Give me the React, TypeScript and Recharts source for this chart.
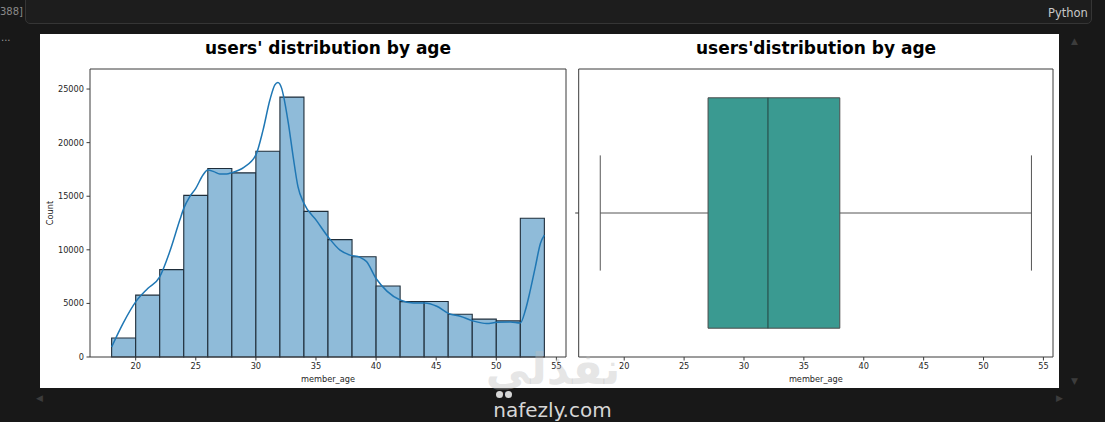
import React from 'react'
import {
  ComposedChart, Line, XAxis, YAxis, ReferenceArea, ReferenceLine
} from 'recharts'

// histogram bins (2-year wide) and counts
const binEdges = [18, 20, 22, 24, 26, 28, 30, 32, 34, 36, 38, 40, 42, 44, 46, 48, 50, 52, 54]
const binCounts = [1770, 5770, 8150, 15080, 17580, 17180, 19200, 24250, 13590, 10950, 9360, 6630, 5170, 5180, 3990, 3530, 3370, 12940]

// kde curve
const kdeAges = [18, 18.94, 20, 21, 22, 22.83, 23.67, 24, 24.5, 25, 25.6, 26, 26.5, 27, 27.56, 28, 29, 30, 30.6, 31.17, 31.58, 31.83, 32.14, 32.28, 32.7, 33.1, 33.5, 34, 35.06, 36, 37, 37.83, 38.67, 39.2, 40, 40.9, 42.05, 43.1, 44.05, 45.05, 46.06, 47, 48.06, 49.2, 50.06, 51.17, 52, 52.42, 52.83, 53.25, 53.67, 54]
const kdeCounts = [935, 3116, 5142, 6388, 7479, 9816, 12776, 13867, 14958, 15737, 16983, 17451, 17295, 17077, 17077, 17202, 17700, 18853, 21190, 23995, 25397, 25615, 25086, 24462, 21813, 18697, 15893, 14335, 12700, 11219, 9972, 9505, 9300, 8900, 7323, 6150, 5298, 5048, 5048, 4737, 4051, 3802, 3366, 3116, 3241, 3272, 3179, 4363, 6232, 8414, 10595, 11374]

const ageTicks = [20, 25, 30, 35, 40, 45, 50, 55]
const countTicks = [0, 5000, 10000, 15000, 20000, 25000]

// whisker low, q1, median, q3, whisker high
const boxStats = [18, 27, 32, 38, 54]

const FONT = '"DejaVu Sans", sans-serif'
const AXIS = '#3a3a3a'
const TXT = '#262626'
const AGE_DOMAIN: [number, number] = [16.2, 55.8]
const COUNT_DOMAIN: [number, number] = [0, 26870]
const BOX_DOMAIN: [number, number] = [-0.5, 0.5]

const kdeData = kdeAges.map((age, i) => ({ age, kde: kdeCounts[i] }))

const tickStyle = { fontSize: 8.2, fill: TXT, fontFamily: FONT }

function HistChart() {
  return (
    <ComposedChart width={530} height={354} data={kdeData}
      margin={{ top: 35, right: 4, bottom: 0, left: 0 }}>
      <XAxis dataKey="age" type="number" domain={AGE_DOMAIN} ticks={ageTicks} allowDataOverflow
        height={31} tickSize={3.5} tickMargin={3} stroke={AXIS} tick={tickStyle}
        label={{ value: 'member_age', position: 'insideBottom', offset: 5.7, fontSize: 8.2, fill: TXT, fontFamily: FONT }} />
      <YAxis type="number" domain={COUNT_DOMAIN} ticks={countTicks} allowDataOverflow width={50}
        tickSize={3.5} tickMargin={2.5} stroke={AXIS} tick={tickStyle}
        label={{ value: 'Count', angle: -90, position: 'insideLeft', offset: 10, fontSize: 8.2, fill: TXT, fontFamily: FONT, style: { textAnchor: 'middle' } }} />
      {binCounts.map((c, i) => (
        <ReferenceArea key={i} x1={binEdges[i]} x2={binEdges[i + 1]} y1={0} y2={c}
          fill="#8fbbd9" fillOpacity={1} stroke="#1e2d3a" strokeWidth={1.1} ifOverflow="visible" />
      ))}
      <Line dataKey="kde" type="monotone" stroke="#1f77b4" strokeWidth={1.5} dot={false}
        isAnimationActive={false} />
      {/* top and right spines */}
      <ReferenceLine y={COUNT_DOMAIN[1]} stroke={AXIS} strokeWidth={1} ifOverflow="visible" />
      <ReferenceLine x={AGE_DOMAIN[1]} stroke={AXIS} strokeWidth={1} ifOverflow="visible" />
    </ComposedChart>
  )
}

function BoxChart() {
  const [lo, q1, med, q3, hi] = boxStats
  return (
    <ComposedChart width={490} height={354} data={kdeData}
      margin={{ top: 35, right: 7, bottom: 0, left: 0 }}>
      <XAxis dataKey="age" type="number" domain={AGE_DOMAIN} ticks={ageTicks} allowDataOverflow
        height={31} tickSize={3.5} tickMargin={3} stroke={AXIS} tick={tickStyle}
        label={{ value: 'member_age', position: 'insideBottom', offset: 5.7, fontSize: 8.2, fill: TXT, fontFamily: FONT }} />
      <YAxis type="number" domain={BOX_DOMAIN} ticks={[0]} allowDataOverflow width={8.7}
        tickSize={3.5} tickFormatter={() => ''} stroke={AXIS} tick={tickStyle} />
      <ReferenceLine segment={[{ x: lo, y: 0 }, { x: q1, y: 0 }]} stroke="#555" strokeWidth={1} ifOverflow="visible" />
      <ReferenceLine segment={[{ x: q3, y: 0 }, { x: hi, y: 0 }]} stroke="#555" strokeWidth={1} ifOverflow="visible" />
      <ReferenceLine segment={[{ x: lo, y: -0.2 }, { x: lo, y: 0.2 }]} stroke="#555" strokeWidth={1} ifOverflow="visible" />
      <ReferenceLine segment={[{ x: hi, y: -0.2 }, { x: hi, y: 0.2 }]} stroke="#555" strokeWidth={1} ifOverflow="visible" />
      <ReferenceArea x1={q1} x2={q3} y1={-0.4} y2={0.4} fill="#3a9a91" fillOpacity={1}
        stroke="#4a4a4a" strokeWidth={1} ifOverflow="visible" />
      <ReferenceLine segment={[{ x: med, y: -0.4 }, { x: med, y: 0.4 }]} stroke="#28504c" strokeWidth={1.2} ifOverflow="visible" />
      {/* top and right spines */}
      <ReferenceLine y={BOX_DOMAIN[1]} stroke={AXIS} strokeWidth={1} ifOverflow="visible" />
      <ReferenceLine x={AGE_DOMAIN[1]} stroke={AXIS} strokeWidth={1} ifOverflow="visible" />
    </ComposedChart>
  )
}

const titleStyle: React.CSSProperties = {
  position: 'absolute', top: 38, fontFamily: FONT, fontWeight: 'bold', fontSize: 17,
  lineHeight: '20px', color: '#000', textAlign: 'center', whiteSpace: 'nowrap'
}

const dot: React.CSSProperties = {
  position: 'absolute', top: 391, width: 7, height: 7, borderRadius: 4, background: '#d6d6d6'
}

export default function App() {
  return (
    <div style={{ position: 'absolute', left: 0, top: 0, width: 1105, height: 422, overflow: 'hidden', background: '#181818', fontFamily: FONT }}>
      {/* notebook cell header */}
      <div style={{ position: 'absolute', left: 25, top: -10, width: 1065, height: 32, border: '1px solid #353535', borderRadius: 5, background: '#1d1d1d' }} />
      <div style={{ position: 'absolute', left: -4, top: 6, fontSize: 10, color: '#8a8a8a' }}>[388]</div>
      <div style={{ position: 'absolute', left: 1048, top: 6, fontSize: 11.5, color: '#c8c8c8' }}>Python</div>
      <div style={{ position: 'absolute', left: 1, top: 32, fontSize: 10, color: '#9a9a9a' }}>...</div>
      <div style={{ position: 'absolute', left: 1071, top: 36, fontSize: 9, color: '#3c3c3c' }}>▲</div>
      <div style={{ position: 'absolute', left: 1071, top: 376, fontSize: 9, color: '#3c3c3c' }}>▼</div>
      <div style={{ position: 'absolute', left: 36, top: 393, fontSize: 9, color: '#3c3c3c' }}>◀</div>
      <div style={{ position: 'absolute', left: 1056, top: 393, fontSize: 9, color: '#3c3c3c' }}>▶</div>

      {/* figure */}
      <div style={{ position: 'absolute', left: 40, top: 34, width: 1019, height: 354, background: '#fff' }} />
      <div style={{ ...titleStyle, left: 90, width: 476 }}>users' distribution by age</div>
      <div style={{ ...titleStyle, left: 579, width: 474 }}>users'distribution by age</div>
      <div style={{ position: 'absolute', left: 40, top: 34 }}>
        <HistChart />
      </div>
      <div style={{ position: 'absolute', left: 570, top: 34 }}>
        <BoxChart />
      </div>

      {/* watermark */}
      <div style={{ position: 'absolute', left: 478, top: 344, width: 150, textAlign: 'center', fontSize: 44, fontWeight: 'bold', color: 'rgba(190,190,190,0.4)', lineHeight: '50px' }}>نفذلي</div>
      <div style={{ ...dot, left: 496 }} />
      <div style={{ ...dot, left: 505 }} />
      <div style={{ position: 'absolute', left: 490, top: 398, width: 125, textAlign: 'center', fontSize: 20, color: '#d6d6d6', lineHeight: '24px' }}>nafezly.com</div>
    </div>
  )
}
